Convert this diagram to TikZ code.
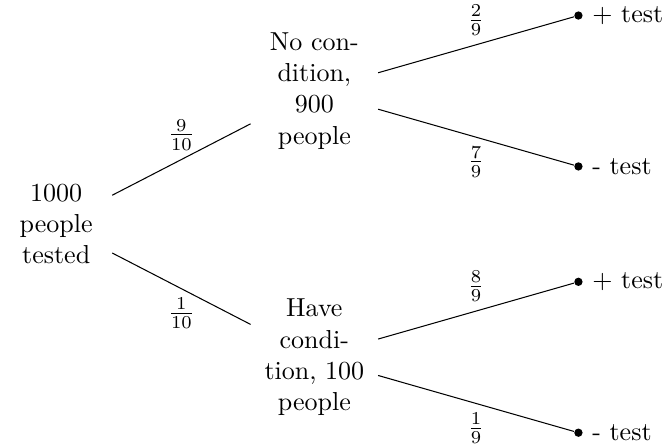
\documentclass[tikz,border=0pt]{standalone}
\usepackage{amsmath}
\usetikzlibrary{positioning}

\begin{document}
\begin{tikzpicture}[x=1cm,y=1cm,
  stage/.style={align=center,text width=#1},
  dot/.style={circle,fill,inner sep=0pt,minimum size=3.2pt}]
\useasboundingbox (0,0) rectangle (8.95,6.03);
\node[stage=36pt] (root) at (0.76,3.0) {1000\\people\\tested};
\node[stage=42pt] (nocond) at (4.25,4.8) {No con-\\dition,\\900\\people};
\node[stage=42pt] (cond) at (4.25,1.2) {Have\\condi-\\tion, 100\\people};
\node[dot,label=right:{+ test}] (npos) at (7.82,5.82) {};
\node[dot,label=right:{- test}] (nneg) at (7.82,3.78) {};
\node[dot,label=right:{+ test}] (cpos) at (7.82,2.22) {};
\node[dot,label=right:{- test}] (cneg) at (7.82,0.18) {};
\draw (root) -- node[above] {$\frac{9}{10}$} (nocond);
\draw (root) -- node[below] {$\frac{1}{10}$} (cond);
\draw (nocond) -- node[above] {$\frac{2}{9}$} (npos);
\draw (nocond) -- node[below] {$\frac{7}{9}$} (nneg);
\draw (cond) -- node[above] {$\frac{8}{9}$} (cpos);
\draw (cond) -- node[below] {$\frac{1}{9}$} (cneg);
\end{tikzpicture}
\end{document}
